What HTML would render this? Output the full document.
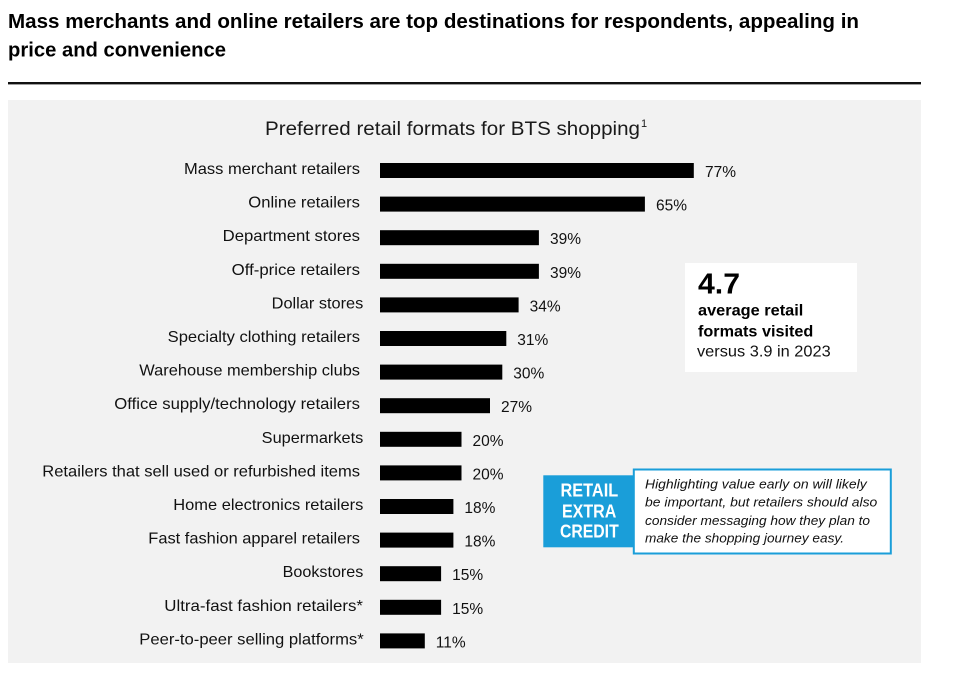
<!DOCTYPE html>
<html><head><meta charset="utf-8"><style>
html,body{margin:0;padding:0;background:#fff;}
svg{display:block;}
text{font-family:"Liberation Sans",Arial,sans-serif;}
</style></head><body>
<svg width="955" height="685" viewBox="0 0 955 685" xmlns="http://www.w3.org/2000/svg">
<rect x="0" y="0" width="955" height="685" fill="#fff"/>
<!-- Title -->
<text x="8" y="28" font-size="20" font-weight="bold" fill="#000" textLength="851" lengthAdjust="spacingAndGlyphs">Mass merchants and online retailers are top destinations for respondents, appealing in</text>
<text x="8" y="56.5" font-size="20" font-weight="bold" fill="#000" textLength="218" lengthAdjust="spacingAndGlyphs">price and convenience</text>
<rect x="8" y="82" width="913" height="2.4" fill="#111"/>
<!-- Panel -->
<rect x="8" y="100" width="913" height="563" fill="#f2f2f2"/>
<text x="265" y="135" font-size="19" fill="#1a1a1a" textLength="375" lengthAdjust="spacingAndGlyphs">Preferred retail formats for BTS shopping</text>
<text x="641" y="127" font-size="11" fill="#1a1a1a">1</text>

<g font-size="16" fill="#111">
<text x="184" y="174" textLength="176" lengthAdjust="spacingAndGlyphs">Mass merchant retailers</text>
<text x="248.3" y="207.6" textLength="111.7" lengthAdjust="spacingAndGlyphs">Online retailers</text>
<text x="222.7" y="241.2" textLength="137.3" lengthAdjust="spacingAndGlyphs">Department stores</text>
<text x="231.7" y="274.8" textLength="128.3" lengthAdjust="spacingAndGlyphs">Off-price retailers</text>
<text x="271.7" y="308.4" textLength="91.6" lengthAdjust="spacingAndGlyphs">Dollar stores</text>
<text x="167.7" y="342" textLength="192.3" lengthAdjust="spacingAndGlyphs">Specialty clothing retailers</text>
<text x="139.3" y="375.6" textLength="220.7" lengthAdjust="spacingAndGlyphs">Warehouse membership clubs</text>
<text x="114.3" y="409.2" textLength="245.7" lengthAdjust="spacingAndGlyphs">Office supply/technology retailers</text>
<text x="261.7" y="442.8" textLength="101.6" lengthAdjust="spacingAndGlyphs">Supermarkets</text>
<text x="42.3" y="476.4" textLength="317.7" lengthAdjust="spacingAndGlyphs">Retailers that sell used or refurbished items</text>
<text x="173.3" y="510" textLength="190" lengthAdjust="spacingAndGlyphs">Home electronics retailers</text>
<text x="148.3" y="543.6" textLength="211.7" lengthAdjust="spacingAndGlyphs">Fast fashion apparel retailers</text>
<text x="282.7" y="577.2" textLength="80.6" lengthAdjust="spacingAndGlyphs">Bookstores</text>
<text x="164.3" y="610.8" textLength="198.7" lengthAdjust="spacingAndGlyphs">Ultra-fast fashion retailers*</text>
<text x="139.3" y="644.4" textLength="224.4" lengthAdjust="spacingAndGlyphs">Peer-to-peer selling platforms*</text>
</g>

<g fill="#000">
<rect x="380" y="163" width="313.8" height="15"/>
<rect x="380" y="196.6" width="264.9" height="15"/>
<rect x="380" y="230.2" width="158.9" height="15"/>
<rect x="380" y="263.8" width="158.9" height="15"/>
<rect x="380" y="297.4" width="138.6" height="15"/>
<rect x="380" y="331" width="126.3" height="15"/>
<rect x="380" y="364.6" width="122.3" height="15"/>
<rect x="380" y="398.2" width="110" height="15"/>
<rect x="380" y="431.8" width="81.5" height="15"/>
<rect x="380" y="465.4" width="81.5" height="15"/>
<rect x="380" y="499" width="73.4" height="15"/>
<rect x="380" y="532.6" width="73.4" height="15"/>
<rect x="380" y="566.2" width="61.1" height="15"/>
<rect x="380" y="599.8" width="61.1" height="15"/>
<rect x="380" y="633.4" width="44.8" height="15"/>
</g>

<g font-size="15.5" fill="#111">
<text x="705" y="177">77%</text>
<text x="656" y="210.6">65%</text>
<text x="550" y="244.2">39%</text>
<text x="550" y="277.8">39%</text>
<text x="529.6" y="311.4">34%</text>
<text x="517.3" y="345">31%</text>
<text x="513.3" y="378.6">30%</text>
<text x="501" y="412.2">27%</text>
<text x="472.5" y="445.8">20%</text>
<text x="472.5" y="479.4">20%</text>
<text x="464.4" y="513">18%</text>
<text x="464.4" y="546.6">18%</text>
<text x="452.1" y="580.2">15%</text>
<text x="452.1" y="613.8">15%</text>
<text x="435.8" y="647.4">11%</text>
</g>

<!-- Stat box -->
<rect x="685" y="263" width="172" height="109" fill="#fff"/>
<text x="698" y="293.3" font-size="29" font-weight="bold" fill="#000" textLength="42" lengthAdjust="spacingAndGlyphs">4.7</text>
<text x="698" y="315.7" font-size="16" font-weight="bold" fill="#000" textLength="105.3" lengthAdjust="spacingAndGlyphs">average retail</text>
<text x="698" y="336.7" font-size="16" font-weight="bold" fill="#000" textLength="115.3" lengthAdjust="spacingAndGlyphs">formats visited</text>
<text x="697" y="356.7" font-size="16" fill="#111" textLength="133.7" lengthAdjust="spacingAndGlyphs">versus 3.9 in 2023</text>

<!-- Retail extra credit -->
<rect x="543.3" y="475.3" width="90" height="72" fill="#1a9ed9"/>
<g font-size="18" font-weight="bold" fill="#fff">
<text x="560.5" y="496.7" textLength="57.7" lengthAdjust="spacingAndGlyphs">RETAIL</text>
<text x="562" y="517.3" textLength="54.3" lengthAdjust="spacingAndGlyphs">EXTRA</text>
<text x="560" y="537.3" textLength="58.7" lengthAdjust="spacingAndGlyphs">CREDIT</text>
</g>
<rect x="633.8" y="469.5" width="257" height="84" fill="#fff" stroke="#1a9ed9" stroke-width="2"/>
<g font-size="13" font-style="italic" fill="#111">
<text x="645" y="488.3" textLength="221.7" lengthAdjust="spacingAndGlyphs">Highlighting value early on will likely</text>
<text x="645" y="506.7" textLength="232.3" lengthAdjust="spacingAndGlyphs">be important, but retailers should also</text>
<text x="645" y="525" textLength="225" lengthAdjust="spacingAndGlyphs">consider messaging how they plan to</text>
<text x="645" y="542.3" textLength="199" lengthAdjust="spacingAndGlyphs">make the shopping journey easy.</text>
</g>
</svg>
</body></html>
